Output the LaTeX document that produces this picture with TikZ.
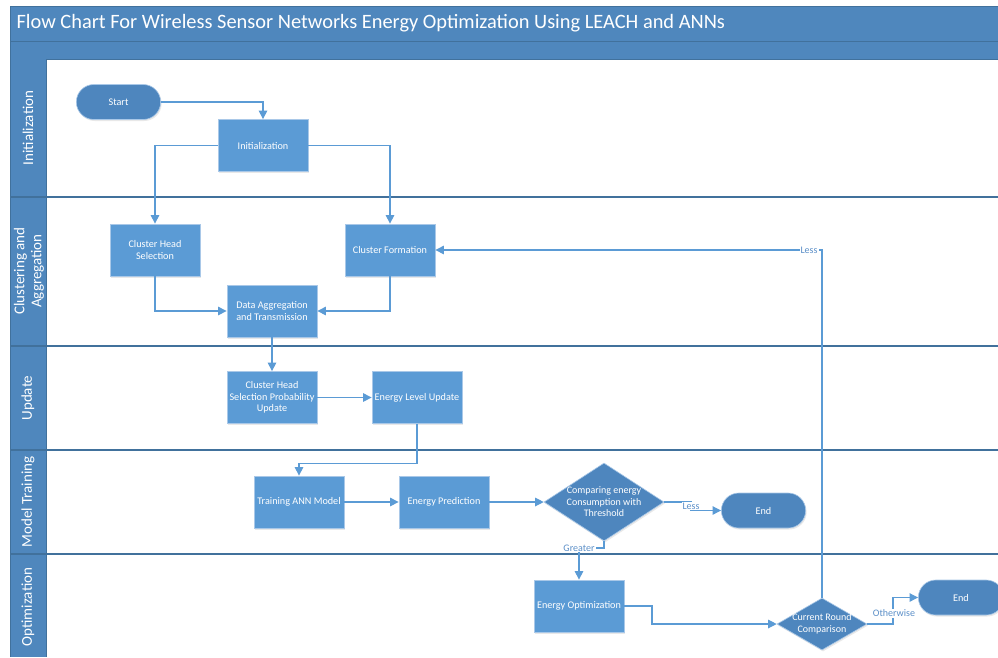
\documentclass[tikz,border=0pt]{standalone}
\usepackage{fontspec}
\setmainfont{Carlito}
\usetikzlibrary{shapes.geometric,shapes.misc,arrows.meta,shadows}

\definecolor{hdr}{HTML}{4F87BD}
\definecolor{hdrdark}{HTML}{41719C}
\definecolor{boxfill}{HTML}{5B9BD5}
\definecolor{boxline}{HTML}{A9C8E8}
\definecolor{termfill}{HTML}{4E86BE}
\definecolor{flowc}{HTML}{5B9BD5}
\definecolor{lblc}{HTML}{5B8FC8}

\tikzset{
  softshadow/.style={drop shadow={opacity=0.18, shadow xshift=1pt, shadow yshift=-1.5pt}},
  proc/.style={rectangle, fill=boxfill, draw=boxline, line width=0.8pt, text=white,
    minimum width=90pt, minimum height=52pt, align=center, inner sep=2pt,
    font=\fontsize{10.2}{11.5}\selectfont, softshadow},
  term/.style={rounded rectangle, fill=termfill, draw=boxline, line width=0.6pt, text=white,
    minimum width=91pt, minimum height=35pt, font=\fontsize{10.2}{11.5}\selectfont, softshadow},
  decide/.style={diamond, fill=termfill, draw=boxline, line width=0.6pt, text=white,
    align=center, font=\fontsize{10}{11.5}\selectfont, softshadow},
  flow/.style={draw=flowc, line width=1.1pt, -{Triangle[length=8.5pt,width=8.5pt]}},
  lbl/.style={fill=white, text=lblc, inner sep=1pt, font=\fontsize{10}{10}\selectfont},
  lanetxt/.style={rotate=90, text=white, align=center, font=\fontsize{15}{17}\selectfont},
  lanesep/.style={draw=hdrdark, line width=1.6pt},
}

\begin{document}
\begin{tikzpicture}[x=1pt,y=-1pt]
\useasboundingbox (0,0) rectangle (998,657);
\clip (0,0) rectangle (998,657);
\fill[white] (0,0) rectangle (998,657);

% title bar and header band
\fill[hdr] (10,6) rectangle (998,59);
\draw[hdrdark, line width=1pt] (10,41) -- (998,41);
\draw[hdrdark, line width=0.8pt] (10,6) -- (998,6);
\draw[hdrdark, line width=0.8pt] (10,59) -- (998,59);
\node[anchor=west, text=white, font=\fontsize{20.4}{22}\selectfont] (title) at (13,23)
  {Flow Chart For Wireless Sensor Networks Energy Optimization Using LEACH and ANNs};

% lane header column
\fill[hdr] (10,59) rectangle (46,657);
\draw[hdrdark, line width=0.8pt] (10,6) -- (10,657);
\draw[hdrdark, line width=0.8pt] (46,59) -- (46,657);

% lane separators
\draw[lanesep] (10,197) -- (998,197);
\draw[lanesep] (10,346) -- (998,346);
\draw[lanesep] (10,450) -- (998,450);
\draw[lanesep] (10,554) -- (998,554);

% lane titles
\node[lanetxt] (laneA) at (28,128) {Initialization};
\node[lanetxt] (laneB) at (29,271) {Clustering and\\Aggregation};
\node[lanetxt] (laneC) at (28,398) {Update};
\node[lanetxt] (laneD) at (28,502) {Model Training};
\node[lanetxt] (laneE) at (28,607) {Optimization};

% steps
\node[term] (start) at (118.5,102) {Start};
\node[proc] (init) at (263,145.5) {Initialization};
\node[proc] (chs) at (155,250) {Cluster Head\\Selection};
\node[proc] (cf) at (390,250) {Cluster Formation};
\node[proc] (dat) at (272,311) {Data Aggregation\\and Transmission};
\node[proc] (chsp) at (272,397.5) {Cluster Head\\Selection Probability\\Update};
\node[proc] (elu) at (417,397.5) {Energy Level Update};
\node[proc] (ann) at (299,502) {Training ANN Model};
\node[proc] (ep) at (444,502) {Energy Prediction};
\node[decide, minimum width=120pt, minimum height=78pt, aspect=1.54, inner sep=-4pt]
  (cmp) at (604,502) {Comparing energy\\Consumption with\\Threshold};
\node[term] (end1) at (763.5,510.5) {End};
\node[proc] (eo) at (579,606) {Energy Optimization};
\node[decide, minimum width=90pt, minimum height=52pt, aspect=1.73, inner sep=-3pt]
  (crc) at (822,624) {Current Round\\Comparison};
\node[term, minimum width=92pt] (end2) at (961,597.5) {End};

% bends of the connectors
\coordinate (lessA) at (691,502);
\coordinate (gtA) at (604,548);
\coordinate (eoA) at (652,606);
\coordinate (othA) at (893,624);

% connectors
\draw[flow] (start.east) -| (init.north);
\draw[flow] (init.west) -| (chs.north);
\draw[flow] (init.east) -| (cf.north);
\draw[flow] (chs.south) |- (dat.west);
\draw[flow] (cf.south) |- (dat.east);
\draw[flow] (dat.south) -- (chsp.north);
\draw[flow] (chsp.east) -- (elu.west);
\draw[flow] (elu.south) -- ++(0,40) -| (ann.north);
\draw[flow] (ann.east) -- (ep.west);
\draw[flow] (ep.east) -- (cmp.west);
\draw[flow] (cmp.east) -- (lessA) |- (end1.west);
\draw[flow] (cmp.south) -- (gtA) -| (eo.north);
\draw[flow] (eo.east) -- (eoA) |- (crc.west);
\draw[flow] (crc.north) |- (cf.east);
\draw[flow] (crc.east) -- (othA) |- (end2.west);

% connector labels
\node[lbl] (lessLbl) at (691,506) {Less};
\node[lbl] (gtLbl) at (579,548) {Greater};
\node[lbl] (backLbl) at (809,250) {Less};
\node[lbl] (othLbl) at (894,613) {Otherwise};
\end{tikzpicture}
\end{document}
